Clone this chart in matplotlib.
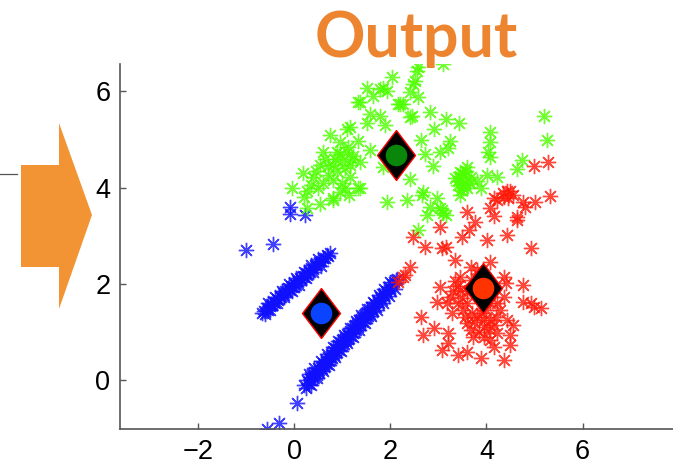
import matplotlib
matplotlib.use("Agg")
import matplotlib.pyplot as plt
from matplotlib.patches import Polygon
from matplotlib.lines import Line2D

# cluster 1 (blue): two thin diagonal bands plus a few stragglers
blue_upper = [(-0.66, 1.40), (-0.62, 1.44), (-0.60, 1.38), (-0.57, 1.49), (-0.54, 1.46), (-0.51, 1.53),
              (-0.48, 1.58), (-0.45, 1.55), (-0.42, 1.63), (-0.39, 1.60), (-0.36, 1.69), (-0.33, 1.66),
              (-0.30, 1.75), (-0.27, 1.72), (-0.24, 1.80), (-0.21, 1.77), (-0.18, 1.85), (-0.15, 1.82),
              (-0.12, 1.91), (-0.09, 1.88), (-0.06, 1.96), (-0.03, 1.94), (0.00, 2.02), (0.03, 1.98),
              (0.06, 2.07), (0.09, 2.04), (0.12, 2.12), (0.15, 2.09), (0.18, 2.17), (0.21, 2.14),
              (0.24, 2.22), (0.27, 2.19), (0.30, 2.27), (0.33, 2.24), (0.36, 2.32), (0.40, 2.31),
              (0.44, 2.38), (0.48, 2.40), (0.52, 2.46), (0.56, 2.47), (0.60, 2.53), (0.64, 2.54),
              (0.68, 2.60), (0.71, 2.58), (0.74, 2.63),
              (-0.55, 1.60), (-0.40, 1.73), (-0.25, 1.86), (-0.10, 1.99), (0.05, 2.12), (0.20, 2.25),
              (0.35, 2.38), (0.50, 2.51), (-0.50, 1.46), (-0.35, 1.59), (-0.20, 1.72), (-0.05, 1.85),
              (0.10, 1.98), (0.25, 2.11), (0.40, 2.24), (0.55, 2.37)]
blue_lower = [(0.20, -0.10), (0.24, -0.16), (0.27, 0.00), (0.30, -0.08), (0.33, 0.06), (0.36, 0.00),
              (0.38, 0.12), (0.41, 0.05), (0.44, 0.17), (0.47, 0.10), (0.50, 0.24), (0.52, 0.15),
              (0.55, 0.30), (0.58, 0.22), (0.60, 0.36), (0.63, 0.28), (0.66, 0.42), (0.68, 0.33),
              (0.71, 0.48), (0.73, 0.40), (0.76, 0.54), (0.78, 0.46), (0.81, 0.60), (0.83, 0.52),
              (0.86, 0.66), (0.88, 0.58), (0.91, 0.72), (0.93, 0.63), (0.96, 0.78), (0.98, 0.70),
              (1.01, 0.84), (1.03, 0.74), (1.06, 0.90), (1.08, 0.80), (1.11, 0.95), (1.13, 0.86),
              (1.16, 1.02), (1.18, 0.92), (1.21, 1.08), (1.23, 0.98), (1.26, 1.14), (1.28, 1.04),
              (1.31, 1.18), (1.33, 1.10), (1.36, 1.25), (1.38, 1.15), (1.41, 1.30), (1.43, 1.20),
              (1.46, 1.36), (1.48, 1.27), (1.51, 1.42), (1.53, 1.32), (1.56, 1.47), (1.58, 1.38),
              (1.61, 1.52), (1.64, 1.44), (1.67, 1.60), (1.70, 1.52), (1.73, 1.66), (1.76, 1.60),
              (1.79, 1.72), (1.82, 1.66), (1.85, 1.79), (1.88, 1.74), (1.91, 1.86), (1.94, 1.80),
              (1.97, 1.94), (2.00, 1.88), (2.04, 2.00), (2.08, 2.04), (2.12, 2.08), (2.15, 2.10),
              (0.30, 0.12), (0.42, 0.24), (0.55, 0.40), (0.68, 0.54), (0.80, 0.68), (0.92, 0.80),
              (1.04, 0.94), (1.16, 1.08), (1.28, 1.22), (1.40, 1.36), (1.52, 1.48), (1.64, 1.62),
              (1.76, 1.76), (1.88, 1.90), (2.00, 2.03),
              (0.35, -0.10), (0.48, 0.05), (0.60, 0.19), (0.72, 0.32), (0.85, 0.47), (0.97, 0.61),
              (1.10, 0.76), (1.22, 0.89), (1.35, 1.04), (1.47, 1.18), (1.60, 1.33), (1.72, 1.46),
              (1.85, 1.61), (1.97, 1.75), (2.10, 1.90)]
blue_other = [(-1.00, 2.71), (-0.43, 2.82), (-0.08, 3.60), (-0.08, 3.45), (0.23, 3.42),
              (0.07, -0.48), (-0.56, -1.02), (-0.31, -0.90)]

# cluster 2 (green)
green = [(2.04, 6.31), (1.52, 6.08), (1.79, 6.04), (1.94, 6.00), (1.65, 5.90), (1.33, 5.77), (2.17, 5.73),
         (2.42, 5.46), (1.58, 5.52), (1.79, 5.48), (1.90, 5.31), (1.52, 5.35), (1.17, 5.27), (0.75, 5.10),
         (0.96, 4.94), (1.13, 4.85), (1.33, 4.96), (1.58, 4.79), (0.60, 4.75), (0.90, 4.73), (1.23, 4.65),
         (0.54, 4.48), (0.81, 4.48), (1.17, 4.48), (1.38, 4.54), (0.19, 4.31), (0.40, 4.23), (0.71, 4.27),
         (1.17, 4.23), (-0.04, 4.00), (0.27, 3.92), (0.50, 4.00), (0.81, 3.79), (1.06, 4.00), (1.33, 4.00),
         (0.54, 3.65), (0.27, 3.58), (1.94, 3.71), (2.35, 3.75), (2.42, 4.17), (1.85, 4.42), (2.48, 6.15),
         (2.56, 6.42), (3.10, 6.56), (2.58, 6.50), (2.52, 6.21), (2.42, 5.98), (2.58, 5.88), (2.27, 5.73),
         (2.46, 5.48), (2.83, 5.58), (3.15, 5.42), (3.42, 5.35), (2.90, 5.21), (2.63, 5.00), (3.25, 4.96),
         (3.21, 4.83), (2.73, 4.69), (3.04, 4.73), (2.88, 4.44), (4.08, 5.15), (4.08, 4.94), (4.04, 4.73),
         (4.08, 4.63), (5.19, 5.48), (5.27, 5.00), (4.75, 4.58), (4.64, 4.38), (3.46, 4.33), (3.60, 4.42),
         (3.40, 4.13), (3.67, 4.21), (3.52, 4.00), (3.46, 3.85), (3.81, 4.13), (4.02, 4.27), (4.23, 4.23),
         (3.88, 4.00), (2.67, 3.85), (2.98, 3.79), (3.08, 3.54), (2.77, 3.44), (2.58, 3.12), (3.15, 3.44),
         (1.85, 6.08), (1.38, 5.77), (2.21, 5.73), (1.10, 5.21), (2.69, 3.90), (2.83, 3.60), (3.10, 3.48),
         (0.81, 3.75), (1.38, 4.00), (3.04, 3.58),
         (3.45, 4.20), (3.55, 4.10), (3.50, 4.30), (3.60, 4.00), (3.40, 4.05), (3.55, 4.25), (3.65, 4.10),
         (3.48, 3.95), (3.58, 4.35), (3.35, 4.20),
         (0.85, 4.60), (1.00, 4.55), (0.95, 4.70), (1.05, 4.40), (0.70, 4.45), (1.20, 4.60), (0.90, 4.35),
         (0.65, 4.60), (1.10, 4.75), (0.80, 4.15), (1.00, 4.10), (0.60, 4.10), (0.45, 4.35), (0.35, 4.05),
         (0.20, 3.80), (1.15, 3.85), (0.95, 3.90)]

# cluster 3 (red)
red = [(5.33, 3.83), (5.02, 3.69), (4.77, 3.71), (4.50, 3.92), (4.36, 3.81), (4.23, 3.75), (4.08, 3.58),
       (4.15, 3.40), (4.64, 3.33), (4.81, 3.60), (3.60, 3.50), (3.77, 3.29), (3.63, 3.12), (3.50, 2.98),
       (3.04, 3.19), (2.48, 2.98), (2.73, 2.77), (3.08, 2.75), (3.15, 2.77), (3.35, 2.50), (4.02, 2.92),
       (4.43, 3.02), (4.92, 2.75), (4.08, 2.46), (3.67, 2.35), (3.46, 2.15), (4.36, 2.15), (4.40, 2.02),
       (4.77, 1.98), (3.04, 1.94), (2.98, 1.63), (2.63, 1.31), (2.69, 0.94), (2.90, 1.08), (3.21, 0.98),
       (3.08, 0.63), (3.21, 0.77), (3.40, 0.52), (3.60, 0.58), (3.88, 0.46), (4.36, 0.42), (4.50, 0.73),
       (4.56, 1.15), (4.50, 0.94), (4.92, 1.60), (5.13, 1.50), (4.98, 1.52), (4.77, 1.63), (2.42, 2.35),
       (2.27, 2.15), (2.17, 2.04), (3.25, 1.73), (3.40, 1.60), (3.29, 1.40), (3.60, 1.19), (3.81, 1.31),
       (3.94, 1.10), (4.08, 1.25), (4.23, 0.98), (4.08, 0.83), (3.73, 0.90), (3.52, 1.46), (4.23, 1.60),
       (4.36, 1.73), (4.29, 1.46), (3.81, 2.29), (3.46, 1.88), (3.19, 1.60), (3.67, 2.08), (4.08, 1.60),
       (3.88, 1.40), (3.67, 1.04), (4.43, 1.25), (4.15, 0.69), (5.29, 4.54), (4.98, 4.44), (4.64, 3.38),
       (4.43, 3.92), (4.15, 3.79), (2.31, 2.19), (4.35, 3.88), (4.45, 3.78), (4.55, 3.85),
       (3.75, 1.20), (3.95, 1.25), (4.05, 1.05), (3.85, 1.00), (4.15, 1.15), (3.70, 1.40), (4.00, 1.45),
       (3.60, 1.60), (3.30, 1.85), (3.35, 2.05), (3.50, 1.70), (3.95, 0.90), (4.20, 1.30), (3.55, 1.30),
       (3.40, 1.95), (3.60, 1.85)]

# centroids
cent_x = [0.56, 2.12, 3.92]
cent_y = [1.40, 4.68, 1.92]
cent_colors = ["#0a44ff", "#0a870a", "#ff3300"]
point_colors = ["#1010ff", "#4dff00", "#ff1a0a"]

fig = plt.figure(figsize=(6.73, 4.69), dpi=100)
ax = fig.add_axes([120 / 673, 40 / 469, 553 / 673, 365 / 469])

star = (8, 2, 0)
clusters = [blue_upper + blue_lower + blue_other, green, red]
for pts, col in zip(clusters, point_colors):
    xs, ys = zip(*pts)
    ax.plot(xs, ys, linestyle="none", marker=star, markersize=11,
            markeredgewidth=1.0, color=col, alpha=0.8)

diamond = [(0, 1), (0.76, 0), (0, -1), (-0.76, 0), (0, 1)]
for cx, cy, cc in zip(cent_x, cent_y, cent_colors):
    ax.plot([cx], [cy], linestyle="none", marker=diamond, markersize=36,
            markerfacecolor="black", markeredgecolor="red", markeredgewidth=1.0)
    ax.plot([cx], [cy], linestyle="none", marker="o", markersize=14.5,
            markerfacecolor=cc, markeredgecolor=cc)

ax.set_xlim(-3.62, 7.88)
ax.set_ylim(-1.02, 6.57)
ax.set_xticks([-2, 0, 2, 4, 6])
ax.set_yticks([0, 2, 4, 6])
for s in ["top", "right"]:
    ax.spines[s].set_visible(False)
for s in ["left", "bottom"]:
    ax.spines[s].set_color("#555555")
    ax.spines[s].set_linewidth(1.2)
ax.tick_params(direction="in", length=4, width=1.0, color="#555555", pad=7,
               labelsize=19.5)
for lab in ax.get_xticklabels() + ax.get_yticklabels():
    lab.set_fontfamily("Liberation Sans")

# title and the decorative arrow on the left
fig.text(416 / 673, 1 - 57 / 469, "Output", color="#ed8530", fontsize=45,
         fontweight="bold", fontfamily="Lato", ha="center", va="baseline")

arrow_px = [(21, 165), (59, 165), (59, 123), (92, 215), (59, 309), (59, 267), (21, 267)]
arrow = Polygon([(x / 673, 1 - y / 469) for x, y in arrow_px], closed=True,
                transform=fig.transFigure, facecolor="#f29433", edgecolor="none")
fig.patches.append(arrow)
fig.lines.append(Line2D([0, 17 / 673], [1 - 174.5 / 469, 1 - 174.5 / 469],
                        transform=fig.transFigure, color="#555555", linewidth=0.9))

fig.savefig("out.png", dpi=100)
plt.close(fig)
